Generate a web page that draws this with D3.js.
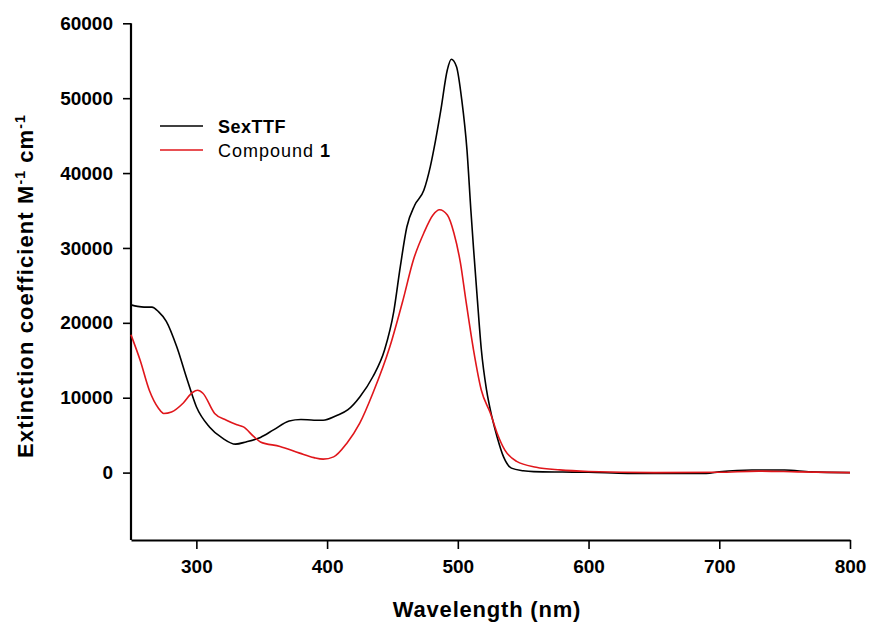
<!DOCTYPE html>
<html>
<head>
<meta charset="utf-8">
<script src="https://d3js.org/d3.v7.min.js"></script>
<style>
  body { margin: 0; background: #fff; }
  text { font-family: "Liberation Sans", Arial, sans-serif; }
</style>
</head>
<body>
<svg id="chart" width="869" height="627"></svg>
<script>
// SexTTF absorbance (wavelength nm, extinction coefficient)
const sexWl = [250,255,260,266,271,277,285,293,300,310,320,330,338,349,359,371,380,390,397,407,416,425,435,444,451,456,461,467,474,479,483,487,492,495,499,503,507,510,512,515,518,522,526,530,535,541,550,558,580,600,630,690,700,725,750,770,800];
const sexVal = [22400,22200,22100,22100,21500,20200,16800,12400,8800,6100,4600,3800,4100,4700,5700,6900,7100,7000,7000,7600,8400,10100,12800,16400,21500,27500,32800,35700,37700,40900,44400,48400,53800,55200,54200,49800,43100,35000,30000,23000,16400,11000,7500,4800,2100,600,250,130,80,50,-100,-100,100,350,350,100,0];

// Compound 1
const cmpWl = [250,257,264,271,275,281,290,297,301,305,314,323,331,336,344,349,364,379,390,397,405,415,425,435,448,458,466,474,481,486,492,497,502,506,512,518,525,530,536,545,560,578,600,650,700,730,760,800];
const cmpVal = [18400,15000,11000,8600,7900,8100,9300,10700,11000,10600,7900,7000,6400,6100,4800,4100,3500,2600,2000,1800,2100,3900,6600,10600,16800,23000,28400,32000,34400,35100,34400,32000,28000,23200,16400,11000,7900,5300,3000,1500,720,360,150,0,50,200,100,0];

const xTicks = [300,400,500,600,700,800];
const yTicks = [0,10000,20000,30000,40000,50000,60000];
const seriesNames = ["SexTTF", "Compound 1"];
const seriesColors = ["#000000", "#e0161b"];

const svg = d3.select("#chart");

const x = d3.scaleLinear().domain([250, 800]).range([131, 850]);
const y = d3.scaleLinear().domain([-9000, 60000]).range([540, 23.3]);

// y axis
const yAxis = svg.append("g")
  .attr("transform", "translate(131,0)")
  .call(d3.axisLeft(y).tickValues(yTicks).tickSize(8).tickPadding(10).tickSizeOuter(0).tickFormat(d3.format("d")));
yAxis.select(".domain").attr("d", "M0," + y(60000) + "V540").attr("stroke-width", 2.2);
yAxis.selectAll(".tick line").attr("stroke-width", 1.6);
yAxis.selectAll("text").style("font-size", "19px").style("font-weight", "bold").attr("fill", "#000");

// x axis
const xAxis = svg.append("g")
  .attr("transform", "translate(0,540)")
  .call(d3.axisBottom(x).tickValues(xTicks).tickSize(9).tickPadding(11).tickSizeOuter(0));
xAxis.select(".domain").attr("stroke-width", 2.2);
xAxis.selectAll(".tick line").attr("stroke-width", 1.6);
xAxis.selectAll("text").style("font-size", "19px").style("font-weight", "bold").attr("fill", "#000");

// curves
const line = d3.line()
  .x(d => x(d[0]))
  .y(d => y(d[1]))
  .curve(d3.curveMonotoneX);

const sexData = sexWl.map((w, i) => [w, sexVal[i]]);
const cmpData = cmpWl.map((w, i) => [w, cmpVal[i]]);

svg.append("path").datum(sexData)
  .attr("d", line).attr("fill", "none")
  .attr("stroke", seriesColors[0]).attr("stroke-width", 1.6);

svg.append("path").datum(cmpData)
  .attr("d", line).attr("fill", "none")
  .attr("stroke", seriesColors[1]).attr("stroke-width", 1.6);

// legend
const leg = svg.append("g");
seriesColors.forEach((c, i) => {
  leg.append("line")
    .attr("x1", 160).attr("x2", 203)
    .attr("y1", 126 + i * 24).attr("y2", 126 + i * 24)
    .attr("stroke", c).attr("stroke-width", 1.6);
});
leg.append("text")
  .attr("x", 218).attr("y", 133)
  .style("font-size", "18px").style("font-weight", "bold")
  .style("letter-spacing", "0.5px")
  .text(seriesNames[0]);
const t2 = leg.append("text")
  .attr("x", 218).attr("y", 157)
  .style("font-size", "18px").style("letter-spacing", "1px");
t2.append("tspan").text("Compound ");
t2.append("tspan").style("font-weight", "bold").text("1");

// axis titles
svg.append("text")
  .attr("x", 487).attr("y", 617)
  .attr("text-anchor", "middle")
  .style("font-size", "22px").style("font-weight", "bold")
  .style("letter-spacing", "0.8px")
  .text("Wavelength (nm)");

const yl = svg.append("text")
  .attr("transform", "translate(33,286) rotate(-90)")
  .attr("text-anchor", "middle")
  .style("font-size", "22px").style("font-weight", "bold")
  .style("letter-spacing", "1.1px");
yl.append("tspan").text("Extinction coefficient M");
yl.append("tspan").attr("dy", -8).style("font-size", "14px").text("-1");
yl.append("tspan").attr("dy", 8).text(" cm");
yl.append("tspan").attr("dy", -8).style("font-size", "14px").text("-1");
</script>
</body>
</html>
